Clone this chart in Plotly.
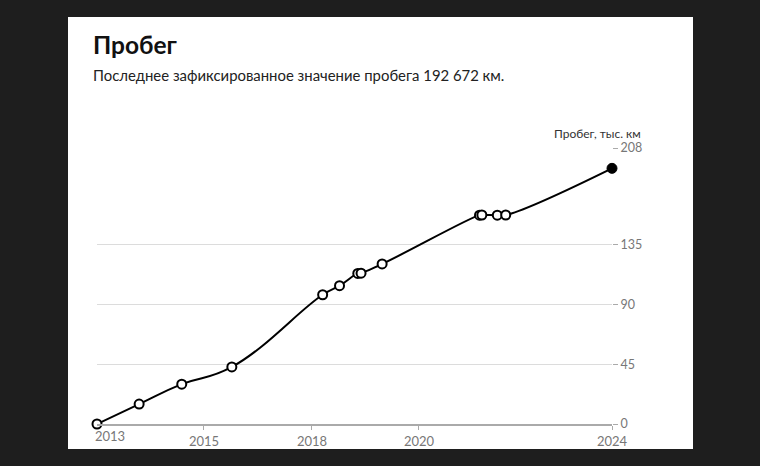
import plotly.graph_objects as go

# Data (fractional years, thousand km)
years = [2013.0, 2013.90, 2014.81, 2015.88, 2017.82, 2018.18, 2018.57, 2018.64,
         2019.09, 2021.17, 2021.22, 2021.55, 2021.73, 2024.0]
mileage = [0, 15, 30, 43, 97.4, 104.2, 113.5, 113.7, 120.6, 157.4, 157.5, 157.4, 157.5, 192.672]

x_tickvals = [2015.285, 2017.592, 2019.877, 2024.0]
x_ticktext = ["2015", "2018", "2020", "2024"]
first_label = "2013"
y_tickvals = [0, 45, 90, 135, 208]

title = "Пробег"
subtitle = "Последнее зафиксированное значение пробега 192\u202f672\u202fкм."
y_title = "Пробег, тыс. км"

FONT = "Lato"

fig = go.Figure()
fig.add_trace(go.Scatter(
    x=years, y=mileage,
    mode="lines",
    line=dict(color="black", width=2, shape="spline", smoothing=1.3),
    hoverinfo="skip", showlegend=False, cliponaxis=False,
))
fig.add_trace(go.Scatter(
    x=years[:-1], y=mileage[:-1], mode="markers",
    marker=dict(size=9, color="white", line=dict(color="black", width=2)),
    showlegend=False, cliponaxis=False,
))
fig.add_trace(go.Scatter(
    x=[years[-1]], y=[mileage[-1]], mode="markers",
    marker=dict(size=10, color="black", line=dict(color="black", width=1)),
    showlegend=False, cliponaxis=False,
))

W, H = 760, 466
L, R, T, B = 97, 612, 148, 424
pw, ph = R - L, B - T

def px(xp):
    return (xp - L) / pw

def py(yp):
    return (B - yp) / ph

fig.add_shape(type="rect", xref="paper", yref="paper",
              x0=px(68), x1=px(693), y0=py(449), y1=py(17),
              fillcolor="white", line=dict(width=0), layer="below")

fig.add_annotation(text=f"<b>{title}</b>", xref="paper", yref="paper",
                   x=px(91), y=py(44), xanchor="left", yanchor="middle",
                   showarrow=False, font=dict(family=FONT, size=24.5, color="#111"))
fig.add_annotation(text=subtitle, xref="paper", yref="paper",
                   x=px(91), y=py(75), xanchor="left", yanchor="middle",
                   showarrow=False, font=dict(family=FONT, size=14.9, color="#222"))
fig.add_annotation(text=y_title, xref="paper", yref="paper",
                   x=px(643), y=py(133), xanchor="right", yanchor="middle",
                   showarrow=False, font=dict(family=FONT, size=12, color="#333"))
fig.add_annotation(text=first_label, xref="x", yref="paper",
                   x=years[0] + 13 / (pw / 11), y=py(436), xanchor="center", yanchor="middle",
                   showarrow=False, font=dict(family=FONT, size=13, color="#777"))

fig.update_layout(
    width=W, height=H,
    margin=dict(l=L, r=W - R, t=T, b=H - B),
    paper_bgcolor="#1e1e1e", plot_bgcolor="white",
    font=dict(family=FONT),
    xaxis=dict(range=[2013, 2024], tickvals=x_tickvals, ticktext=x_ticktext,
               showgrid=False, zeroline=False, showline=True, linecolor="#aaa",
               linewidth=2, ticks="outside", ticklen=4, tickcolor="#aaa", tickwidth=1,
               tickfont=dict(family=FONT, size=13, color="#777"), fixedrange=True),
    yaxis=dict(range=[0, 208], tickvals=y_tickvals, side="right",
               showgrid=True, gridcolor="#dcdcdc", gridwidth=1, zeroline=False,
               showline=False, ticks="outside", ticklen=5, tickcolor="#aaa",
               tickfont=dict(family=FONT, size=12.5, color="#777"), fixedrange=True),
)

fig.write_html("out.html")
